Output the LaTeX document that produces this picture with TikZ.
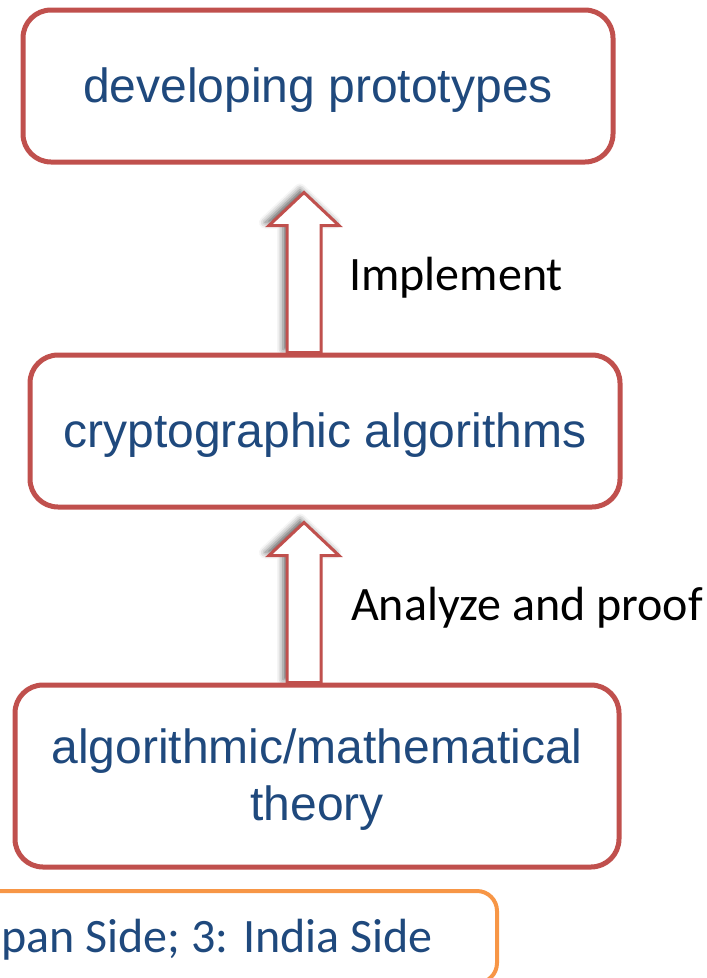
\documentclass[tikz,border=0pt]{standalone}
\usepackage{fontspec}
\setmainfont{Liberation Sans}
\newfontfamily\calfont{Carlito}
\usetikzlibrary{calc,shadows.blur,backgrounds}
\definecolor{boxred}{HTML}{C0504D}
\definecolor{txtblue}{HTML}{1F497D}
\definecolor{boxorange}{HTML}{F79646}
\begin{document}
\begin{tikzpicture}[x=1pt,y=-1pt,
  stage/.style={draw=boxred, line width=5pt, rounded corners=28pt, fill=white,
    text=txtblue, font=\fontsize{48}{57}\selectfont, align=center, inner sep=0pt},
  oneline/.style={text height=40pt, text depth=8pt},
  fatarrow/.style={draw=boxred, line width=3pt, fill=white, line join=miter,
    blur shadow={shadow xshift=-4pt, shadow yshift=3pt, shadow blur radius=6pt, shadow opacity=60}},
  lbl/.style={font=\calfont\fontsize{48}{56}\selectfont, anchor=base west, inner sep=0pt},
  legendbox/.style={draw=boxorange, line width=4pt, rounded corners=20pt, inner sep=0pt},
  legendtxt/.style={text=txtblue, font=\calfont\fontsize{48}{56}\selectfont, anchor=base east, inner sep=0pt}]
\useasboundingbox (0,0) rectangle (707,978);

\node[stage, oneline, minimum width=590pt, minimum height=152pt] (proto) at (318,86) {developing prototypes};
\node[stage, oneline, minimum width=590pt, minimum height=152pt] (crypto) at (325,431) {cryptographic algorithms};
\node[stage, minimum width=604pt, minimum height=182pt] (theory) at (317,776) {\rule{0pt}{41pt}algorithmic/mathematical\\theory};

\coordinate (tip1) at ($(proto.south)+(-14,28)$);
\coordinate (tip2) at ($(crypto.south)+(-21,13)$);

\begin{scope}[on background layer]
\path[fatarrow] ($(tip1|-crypto.north)+(-17,0)$) -- ($(tip1)+(-17,33)$) -- ($(tip1)+(-35,33)$) -- (tip1)
  -- ($(tip1)+(35,33)$) -- ($(tip1)+(17,33)$) -- ($(tip1|-crypto.north)+(17,0)$) -- cycle;
\path[fatarrow] ($(tip2|-theory.north)+(-17,0)$) -- ($(tip2)+(-17,33)$) -- ($(tip2)+(-35,33)$) -- (tip2)
  -- ($(tip2)+(35,33)$) -- ($(tip2)+(17,33)$) -- ($(tip2|-theory.north)+(17,0)$) -- cycle;
\end{scope}

\node[lbl] (impl) at (349,290) {Implement};
\node[lbl] (anal) at (351,620) {Analyze and proof};

\node[legendbox, minimum width=530pt, minimum height=92pt] (legend) at (232,937) {};
\node[legendtxt] (legendtext) at (433,952) {apan Side; 3: India Side};
\end{tikzpicture}
\end{document}
